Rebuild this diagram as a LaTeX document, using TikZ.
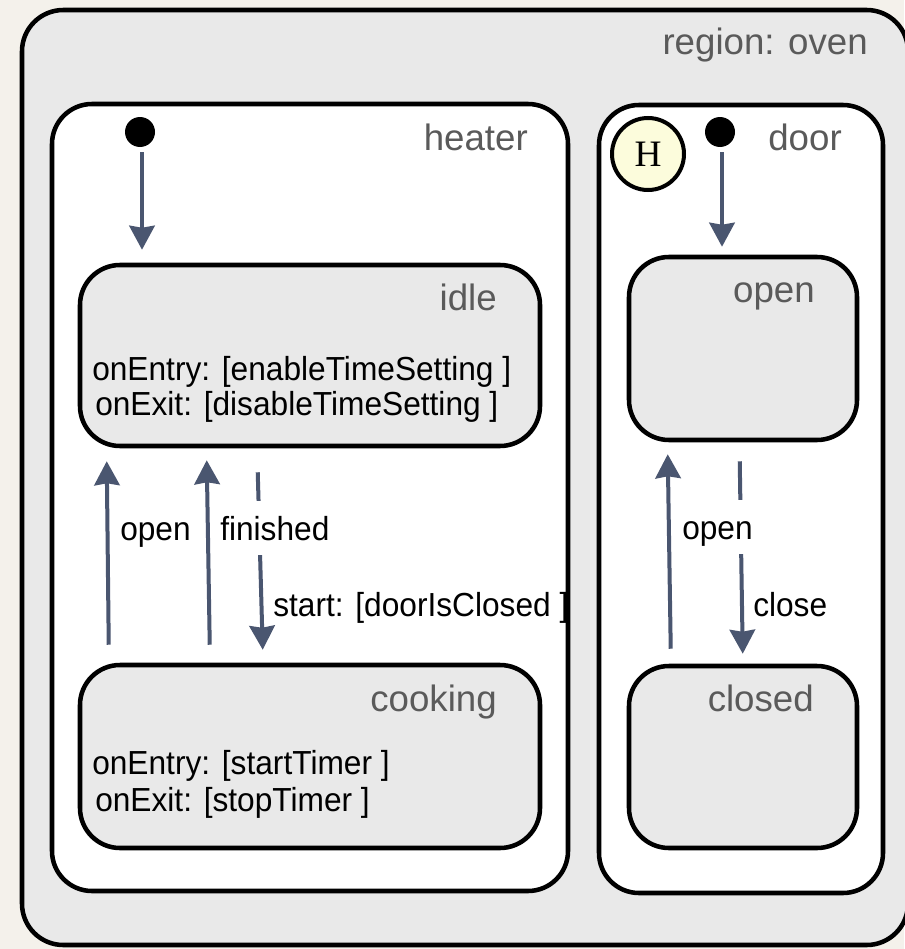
\documentclass[tikz,border=0pt]{standalone}
\usepackage{fontspec}
\setmainfont{Liberation Sans}
\newfontfamily\histfont{Liberation Serif}
\newfontfamily\bodyfont[FakeStretch=0.95]{Liberation Sans}
\usetikzlibrary{arrows.meta,calc,fit}

\definecolor{paper}{HTML}{F4F1EB}
\definecolor{regionfill}{HTML}{E9E9E9}
\definecolor{statefill}{HTML}{E9E9E9}
\definecolor{titlegray}{HTML}{5A5A5A}
\definecolor{transc}{HTML}{4A5670}
\definecolor{histfill}{HTML}{FCFCDC}

\tikzset{
  box/.style={draw=black, line width=3.4pt, inner sep=0pt},
  regionbox/.style={box, fill=regionfill, rounded corners=31pt},
  subregion/.style={box, fill=white, rounded corners=30pt},
  statebox/.style={box, fill=statefill, rounded corners=30pt},
  initdot/.style={circle, fill=black, minimum size=22.5pt, inner sep=0pt},
  histnode/.style={circle, draw=black, line width=3pt, fill=histfill,
    minimum size=54pt, inner sep=0pt, font=\histfont\fontsize{28}{30}\selectfont},
  titletext/.style={inner sep=0pt, anchor=base east, text=titlegray,
    font=\fontsize{27.5}{33}\selectfont},
  bodytext/.style={inner sep=0pt, anchor=base west, text=black,
    font=\bodyfont\fontsize{25}{29}\selectfont},
  translabel/.style={bodytext},
  masklabel/.style={inner xsep=1.5pt, inner ysep=0pt, anchor=west, fill=white,
    text height=18pt, text depth=0pt, minimum height=40.5pt,
    font=\bodyfont\fontsize{25}{29}\selectfont},
  trans/.style={draw=transc, line width=3pt,
    -{Stealth[length=18pt, width=19pt, inset=1.5pt]}},
}

\begin{document}
\begin{tikzpicture}[x=0.75pt, y=-0.75pt]
\useasboundingbox (0,0) rectangle (904,949);
\fill[paper] (0,0) rectangle (904,949);

% region and sub-regions
\node[regionbox, fit={(22,10) (908,945)}] (oven) {};
\node[subregion, fit={(52,104) (568,891)}] (heater) {};
\node[subregion, fit={(599,105) (883,893)}] (door) {};

% states
\node[statebox, fit={(80,265) (540,446)}] (idle) {};
\node[statebox, fit={(80,665) (540,848)}] (cooking) {};
\node[statebox, fit={(629,257) (857,440)}] (dopen) {};
\node[statebox, fit={(629,666) (857,848)}] (closed) {};

% pseudo states
\node[initdot] (hinit) at (140,132) {};
\node[initdot] (dinit) at (720,132) {};
\node[histnode] (hist) at (648,154) {H};

% titles
\node[titletext] (ovenname) at (868,55) {region: oven};
\node[titletext] (heatername) at (528,150) {heater};
\node[titletext] (doorname) at (842,150) {door};
\node[titletext] (idlename) at (497,310) {idle};
\node[titletext] (cookingname) at (497,711) {cooking};
\node[titletext] (openname) at (815,302) {open};
\node[titletext] (closedname) at (814,711) {closed};

% entry / exit actions
\node[bodytext] (idleentry) at (92,380) {onEntry: [enableTimeSetting ]};
\node[bodytext] (idleexit) at (95,415) {onExit: [disableTimeSetting ]};
\node[bodytext] (cookentry) at (92,774) {onEntry: [startTimer ]};
\node[bodytext] (cookexit) at (95,811) {onExit: [stopTimer ]};

% transitions
\draw[trans] ($(hinit.south)+(2,5)$) -- ($(hinit.south |- idle.north)+(2,-13)$);
\draw[trans] ($(dinit.south)+(2,5)$) -- ($(dinit.south |- dopen.north)+(2,-8)$);

\draw[trans] ($(cooking.north west)+(31,-18)$) -- ($(idle.south west)+(29,13)$);
\draw[trans] ($(cooking.north west)+(132,-18)$) -- ($(idle.south west)+(129,12)$);
\draw[trans] ($(idle.south west)+(180,24)$) -- ($(cooking.north west)+(185,-13)$);

\draw[trans] ($(closed.north west)+(44,-15)$) -- ($(dopen.south west)+(41,12)$);
\draw[trans] ($(dopen.south west)+(113,19)$) -- ($(closed.north west)+(116,-10)$);

% transition labels
\node[translabel] (lopen) at (120,540) {open};
\node[masklabel] (lfinished) at (218,528) {finished};
\node[translabel] (lstart) at (273,616) {start: [doorIsClosed ]};
\node[masklabel] (ldopen) at (680,527) {open};
\node[translabel] (lclose) at (753,616) {close};
\end{tikzpicture}
\end{document}
